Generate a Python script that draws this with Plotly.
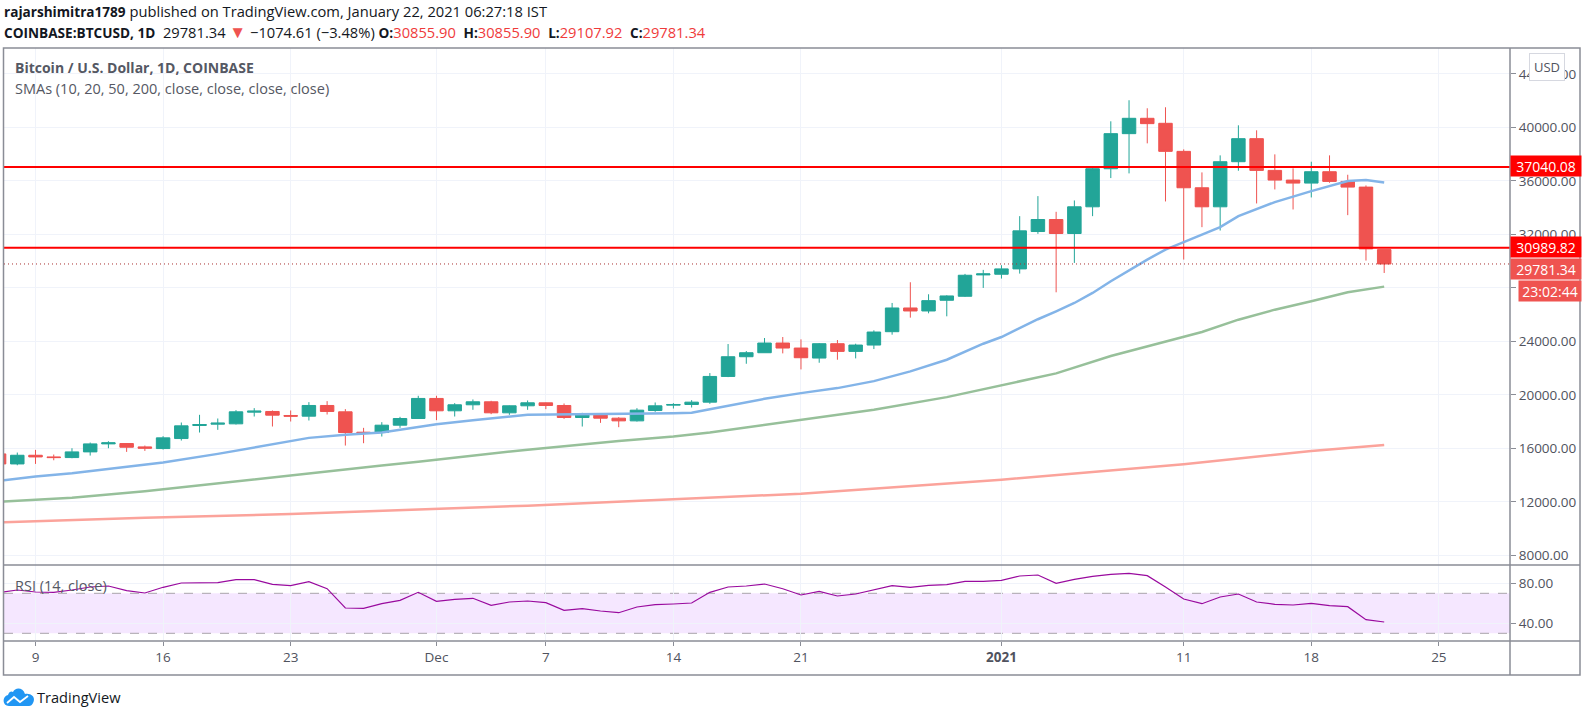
import pandas as pd
import plotly.graph_objects as go

dates = pd.date_range("2020-11-07", "2021-01-22", freq="D")

opens = [15580,14830,15480,15355,15307,15732,16331,16356,16106,15981,16730,17704,17804,17829,18703,18753,18453,18403,19202,18728,17205,17180,17729,18228,
         19727,18803,19253,19477,18653,19178,19400,19201,18302,18576,18252,18052,18826,19226,19276,19451,21373,22847,23146,23870,23496,22747,23820,23246,23720,24719,26492,26267,27067,27366,28964,
         29014,29412,32208,33107,32059,34056,36903,39525,40673,40299,38201,35479,34056,37427,39150,36778,36054,35829,36678,35954,35529,30855.90]
highs = [15770,15682,15881,15532,16006,16431,16530,16381,16206,16905,17929,18503,18228,18853,19003,18828,18828,19452,19527,18928,17529,17954,18353,19927,
         19927,19377,19652,19552,19202,19577,19425,19351,18651,18626,18327,19001,19426,19376,19601,21623,23795,23271,24245,24320,24145,23870,24095,23820,24819,26867,28415,27516,27441,29039,29339,
         29688,33357,34855,33682,34531,37003,40448,42022,41422,41497,38351,36628,37902,40149,39774,37977,36928,37427,37902,36453,35654,30855.90]
lows = [14350,14733,14833,15107,15257,15457,16006,15732,15806,15906,16580,17180,17380,17779,18378,17629,18004,18078,18528,16206,16381,16880,17529,18203,
        18103,18378,18878,18553,18503,18878,18926,18202,17628,17903,17578,18002,18726,18976,19051,19326,21323,22322,23146,23096,21898,22397,22622,22722,23421,24495,25768,26093,25868,27316,27990,
        28690,29062,32034,27664,29861,33357,36204,36553,38800,34456,30111,32533,32283,36753,34306,35354,33856,34755,35854,33432,30036,29107.92]
closes = [14830,15480,15355,15307,15732,16331,16406,16081,16006,16780,17679,17779,17879,18728,18778,18478,18403,19202,18753,17180,17155,17729,18228,19727,
          18803,19253,19477,18653,19178,19402,19201,18302,18576,18252,18052,18851,19176,19276,19451,21373,22847,23146,23870,23496,22772,23820,23246,23720,24694,26492,26267,27041,27391,28939,29039,
          29414,32258,33107,32059,34056,36903,39525,40673,40274,38201,35479,34056,37427,39150,36778,36054,35829,36678,35954,35529,30910,29781.34]

sma20_dates = ["2020-11-07","2020-11-09","2020-11-11","2020-11-13","2020-11-16","2020-11-19","2020-11-21","2020-11-23","2020-11-24","2020-11-26","2020-11-28","2020-11-29","2020-12-01","2020-12-03","2020-12-06","2020-12-14","2020-12-15","2020-12-16","2020-12-18","2020-12-19","2020-12-21","2020-12-23","2020-12-25","2020-12-27","2020-12-29","2020-12-31","2021-01-01","2021-01-03","2021-01-04","2021-01-05","2021-01-06","2021-01-07","2021-01-09","2021-01-10","2021-01-11","2021-01-12","2021-01-13","2021-01-14","2021-01-16","2021-01-18","2021-01-20","2021-01-21","2021-01-22"]
sma20 = [13560,13884,14133,14458,14932,15582,16056,16531,16780,17005,17180,17380,17804,18104,18510,18627,18652,18926,19451,19700,20125,20500,21024,21748,22622,23820,24320,25650,26240,26864,27614,28488,30111,30860,31409,31984,32533,33357,34406,35230,35979,36054,35879]

sma50_dates = ["2020-11-07","2020-11-09","2020-11-11","2020-11-15","2020-11-17","2020-11-19","2020-11-21","2020-11-23","2020-11-25","2020-11-28","2020-11-30","2020-12-03","2020-12-06","2020-12-11","2020-12-14","2020-12-16","2020-12-18","2020-12-21","2020-12-25","2020-12-29","2021-01-01","2021-01-04","2021-01-07","2021-01-10","2021-01-12","2021-01-14","2021-01-16","2021-01-18","2021-01-20","2021-01-22"]
sma50 = [12005,12136,12311,12785,13085,13360,13659,13959,14308,14708,15000,15430,15900,16554,16879,17178,17553,18127,18876,19825,20699,21600,22900,24000,24700,25616,26366,26989,27664,28088]

sma200_dates = ["2020-11-07","2020-11-15","2020-11-23","2020-12-01","2020-12-06","2020-12-14","2020-12-21","2021-01-01","2021-01-11","2021-01-18","2021-01-22"]
sma200 = [10463,10812,11087,11487,11711,12200,12600,13650,14800,15800,16250]

rsi = [70.6,73.3,71.3,71,73.3,76.3,77.3,72.6,70.3,76,80.3,80.3,80.6,83.6,83.6,79,77.6,81.6,74.6,55.3,55,59.6,63,71,
       62,64,65,58,61.3,62.3,60.6,53,54.6,52.3,50.6,56.3,58.6,59.3,60.3,71,76.3,77.3,79.3,74.6,68.3,72,67.3,69.3,73.3,77.6,76,78,78.6,82,82,
       83,87.3,88.3,80,84,87,89,90,87.6,76.3,64.3,59.6,66.3,69.3,61.3,59,58.3,60,57.6,56.6,43.6,41.3]

price_ticks = [8000,12000,16000,20000,24000,28000,32000,36000,40000,44000]
rsi_ticks = [40,80]
time_ticks = ["2020-11-09","2020-11-16","2020-11-23","2020-12-01","2020-12-07","2020-12-14","2020-12-21","2021-01-01","2021-01-11","2021-01-18","2021-01-25"]
time_labels = ["9","16","23","Dec","7","14","21","<b>2021</b>","11","18","25"]
levels = [37040.08, 30989.82]
last_price = 29781.34

W, H = 1593, 710
L, R, T, B = 4, 1510, 48, 641
SPLIT = 565
FRAME_R, FRAME_B = 1580, 675
def px(x): return (x - L) / (R - L)
def py(y): return (B - y) / (B - T)

UP, DOWN = "#22a598", "#ef5350"
GRID = "#f0f3fa"
TEXT = "#50535e"
FRAME = "#8a8d96"
FONT = "Open Sans"

fig = go.Figure()
fig.add_trace(go.Candlestick(
    x=dates, open=opens, high=highs, low=lows, close=closes, xaxis="x2", yaxis="y",
    increasing=dict(line=dict(color=UP, width=1), fillcolor=UP),
    decreasing=dict(line=dict(color=DOWN, width=1), fillcolor=DOWN),
    whiskerwidth=0, hoverinfo="skip", showlegend=False))
for xs, ys, c in [(sma200_dates, sma200, "#fba39b"), (sma50_dates, sma50, "#97c09a"), (sma20_dates, sma20, "#83b4e8")]:
    fig.add_trace(go.Scatter(x=xs, y=ys, mode="lines", line=dict(color=c, width=2.5), xaxis="x2", yaxis="y",
                             hoverinfo="skip", showlegend=False))
fig.add_trace(go.Scatter(x=dates, y=rsi, mode="lines", line=dict(color="#990a9e", width=1.2), xaxis="x", yaxis="y2",
                         hoverinfo="skip", showlegend=False))

shapes = []
for lv in levels:
    shapes.append(dict(type="line", xref="paper", yref="y", x0=0, x1=1, y0=lv, y1=lv, line=dict(color="#ff0000", width=2)))
shapes.append(dict(type="line", xref="paper", yref="y", x0=0, x1=1, y0=last_price, y1=last_price,
                   line=dict(color="#a83030", width=1, dash="1px,3px")))
shapes.append(dict(type="rect", xref="paper", yref="y2", x0=0, x1=1, y0=30, y1=70, fillcolor="rgba(153,21,255,0.1)",
                   line=dict(width=0), layer="below"))
for v in (30, 70):
    shapes.append(dict(type="line", xref="paper", yref="y2", x0=0, x1=1, y0=v, y1=v,
                       line=dict(color="#a8a3ab", width=1, dash="dash"), layer="below"))
# panel frame
shapes.append(dict(type="rect", xref="paper", yref="paper", x0=px(3.5), x1=px(FRAME_R), y0=py(FRAME_B), y1=py(T),
                   line=dict(color=FRAME, width=1.5)))
shapes.append(dict(type="line", xref="paper", yref="paper", x0=px(3.5), x1=px(FRAME_R), y0=py(SPLIT), y1=py(SPLIT), line=dict(color=FRAME, width=1.5)))
shapes.append(dict(type="line", xref="paper", yref="paper", x0=px(3.5), x1=px(FRAME_R), y0=py(B), y1=py(B), line=dict(color=FRAME, width=1.5)))
shapes.append(dict(type="line", xref="paper", yref="paper", x0=1, x1=1, y0=py(FRAME_B), y1=py(T), line=dict(color=FRAME, width=1.5)))
# TradingView cloud mark
pts = lambda x, y: f"{px(x):.5f},{py(y):.5f}"
cloud = ("M" + pts(9, 706) + " C" + pts(2, 706) + " " + pts(2, 696) + " " + pts(8, 695)
         + " C" + pts(9, 691) + " " + pts(12, 691) + " " + pts(13, 692)
         + " C" + pts(15, 687) + " " + pts(23, 687) + " " + pts(25, 694)
         + " C" + pts(32, 693) + " " + pts(36, 698) + " " + pts(33, 703)
         + " C" + pts(32, 705) + " " + pts(31, 706) + " " + pts(29, 706) + " Z")
shapes.append(dict(type="path", xref="paper", yref="paper", path=cloud, fillcolor="#2196f3", line=dict(width=0)))
wave = "M" + pts(7, 703) + " L" + pts(14, 697) + " L" + pts(20, 702) + " L" + pts(28, 696)
shapes.append(dict(type="path", xref="paper", yref="paper", path=wave, line=dict(color="white", width=1.8)))

def note(text, x, y, size=13, color=TEXT, **kw):
    return dict(text=text, xref="paper", yref="paper", x=px(x), y=py(y), xanchor=kw.pop("xanchor", "left"),
                yanchor="middle", showarrow=False, font=dict(family=FONT, size=size, color=color), **kw)

def tag(text, y, bg, width=70, x=R):
    return dict(text=text, xref="paper", yref="paper", x=px(x), y=py(y), xanchor="left", yanchor="middle",
                width=width, height=20, bgcolor=bg, borderpad=0, align="center", showarrow=False,
                font=dict(family=FONT, size=14, color="white"))

def bold(s):
    return f'<b><span style="font-size:13.6px">{s}</span></b>'
def red(s):
    return f'<span style="color:#ef3b3b">{s}</span>'

header2 = (bold("COINBASE:BTCUSD, 1D") + '  29781.34 <span style="color:#ef5350;font-size:17px">▼</span> −1074.61 (−3.48%) '
           + bold("O:") + red("30855.90") + "  " + bold("H:") + red("30855.90") + "  "
           + bold("L:") + red("29107.92") + "  " + bold("C:") + red("29781.34"))
annotations = [
    note(bold("rajarshimitra1789") + ' published on TradingView.com, January 22, 2021 06:27:18 IST', 2, 11, size=14.7, color="#131722"),
    note(header2, 2, 31, size=14.7, color="#131722"),
    note('<b>Bitcoin / U.S. Dollar, 1D, COINBASE</b>', 13, 68, size=14, color="#555863"),
    note('SMAs (10, 20, 50, 200, close, close, close, close)', 13, 88.5, size=14.5, color="#555863"),
    note('RSI (14, close)', 13, 585, size=14.5, color="#555863"),
    note('TradingView', 35, 697, size=14.6, color="#131722"),
    tag("37040.08", 166, "#ff0000"),
    tag("30989.82", 247, "#ff0000"),
    tag("29781.34", 269, "#ef5350"),
    tag("23:02:44", 291, "#ef5350", width=62, x=1518),
    dict(text="USD", xref="paper", yref="paper", x=px(1547), y=py(67), xanchor="center", yanchor="middle", showarrow=False,
         bgcolor="white", bordercolor="#d6d8e0", borderwidth=1, borderpad=4, font=dict(family=FONT, size=13, color=TEXT)),
]

x_range = ["2020-11-07 06:30", "2021-01-28 21:40"]
xcommon = dict(type="date", range=x_range, tickmode="array", tickvals=time_ticks, showgrid=True, gridcolor=GRID,
               gridwidth=1, zeroline=False, showline=False, rangeslider=dict(visible=False))
fig.update_layout(
    width=W, height=H, autosize=False, paper_bgcolor="white", plot_bgcolor="white",
    margin=dict(l=L, r=W - R, t=T, b=H - B, pad=0), showlegend=False, boxgap=0.26, boxgroupgap=0,
    xaxis=dict(**xcommon, ticktext=time_labels, anchor="y2", domain=[0, 1], ticks="outside", ticklen=4, tickcolor=FRAME,
               tickfont=dict(family=FONT, size=13.5, color=TEXT)),
    xaxis2=dict(**xcommon, matches="x", anchor="y", domain=[0, 1], showticklabels=False, ticks=""),
    yaxis=dict(domain=[py(SPLIT), 1], range=[7275, 45929], side="right", tickmode="array", tickvals=price_ticks,
               tickformat=".2f", showgrid=True, gridcolor=GRID, zeroline=False, ticks="outside", ticklen=5, tickcolor=FRAME,
               anchor="x2", tickfont=dict(family=FONT, size=13.5, color=TEXT)),
    yaxis2=dict(domain=[0, py(SPLIT)], range=[22.3, 98.3], side="right", tickmode="array", tickvals=rsi_ticks,
                tickformat=".2f", showgrid=True, gridcolor=GRID, zeroline=False, ticks="outside", ticklen=5, tickcolor=FRAME,
                anchor="x", tickfont=dict(family=FONT, size=13.5, color=TEXT)),
    shapes=shapes, annotations=annotations,
)
fig.write_html("out.html", post_script="document.body.style.margin='0';document.body.style.overflow='hidden';",
               config=dict(displayModeBar=False))
